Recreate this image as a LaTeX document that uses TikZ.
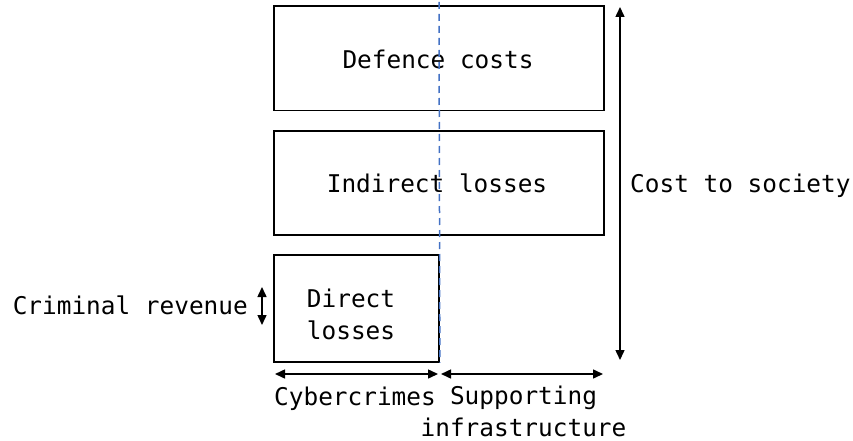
\documentclass[tikz,border=0pt]{standalone}
\usepackage{fontspec}
\newfontfamily\lblfont{DejaVu Sans Mono}
\usetikzlibrary{arrows.meta}
\definecolor{splitblue}{HTML}{4472C4}
\tikzset{
  lbl/.style={font=\lblfont\fontsize{24.4}{32}\selectfont, inner sep=0pt},
  costbox/.style={draw=black, line width=1.7pt, inner sep=0pt},
  tip/.tip={Triangle[length=10pt,width=9pt]},
  span/.style={line width=1.5pt, tip-tip},
  split/.style={draw=splitblue, line width=1.5pt, dash pattern=on 7pt off 5pt}
}
\begin{document}
\begin{tikzpicture}[x=1pt, y=-1pt]
  \useasboundingbox (0,0) rectangle (853,441);

  % cost components
  \node[costbox, minimum width=330pt, minimum height=104.7pt] (defence) at (439,58.3) {};
  \node[costbox, minimum width=330pt, minimum height=104pt] (indirect) at (439,183) {};
  \node[costbox, minimum width=165pt, minimum height=106.7pt] (direct) at (356.5,308.3) {};

  \node[lbl, anchor=base] (defencelbl) at (438,68.3) {Defence costs};
  \node[lbl, anchor=base] (indirectlbl) at (437,192.7) {Indirect losses};
  \node[lbl, anchor=base, align=center] (directlbl) at (351,339) {Direct\\losses};

  % split between crimes and supporting infrastructure
  \coordinate (splittop) at (439,2);
  \draw[split] (splittop) -- (direct.south east);

  % cost to society span
  \coordinate (societytop) at (620,7);
  \coordinate (societybot) at (620,360);
  \draw[span] (societytop) -- (societybot);
  \node[lbl, anchor=base west] (societylbl) at (630,192.7) {Cost to society};

  % criminal revenue span
  \coordinate (revtop) at (262,287);
  \coordinate (revbot) at (262,325);
  \draw[span] (revtop) -- (revbot);
  \node[lbl, anchor=base east] (revlbl) at (248,314) {Criminal revenue};

  % horizontal spans
  \coordinate (crimesl) at (275,374);
  \coordinate (crimesr) at (438,374);
  \coordinate (infral) at (441,374);
  \coordinate (infrar) at (603,374);
  \draw[span] (crimesl) -- (crimesr);
  \draw[span] (infral) -- (infrar);
  \node[lbl, anchor=base west] (crimeslbl) at (274,405) {Cybercrimes};
  \node[lbl, anchor=base, align=center] (infralbl) at (523.5,436) {Supporting\\infrastructure};
\end{tikzpicture}
\end{document}
